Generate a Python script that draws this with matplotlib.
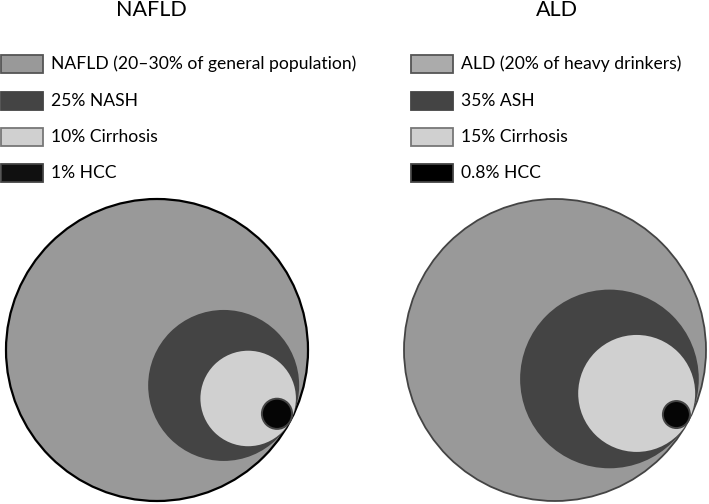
import numpy as np
import matplotlib
matplotlib.use("Agg")
import matplotlib.pyplot as plt
from matplotlib.patches import Circle, Rectangle

plt.rcParams['font.family'] = ['Lato', 'DejaVu Sans']

# data
titles = ["NAFLD", "ALD"]
nafld_labels = ["NAFLD (20–30% of general population)", "25% NASH",
                "10% Cirrhosis", "1% HCC"]
nafld_pct = [100, 25, 10, 1]
ald_labels = ["ALD (20% of heavy drinkers)", "35% ASH",
              "15% Cirrhosis", "0.8% HCC"]
ald_pct = [100, 35, 15, 0.8]

# styles
nafld_fill = ["#999999", "#444444", "#d0d0d0", "#050505"]
ald_fill = ["#999999", "#444444", "#d0d0d0", "#050505"]
nafld_swatch = ["#999999", "#444444", "#d0d0d0", "#101010"]
ald_swatch = ["#ababab", "#444444", "#d0d0d0", "#000000"]
swatch_edge = ["#555555", "#444444", "#777777", "#444444"]

W, H = 709, 504
fig = plt.figure(figsize=(W / 100, H / 100), dpi=100)
ax = fig.add_axes([0, 0, 1, 1])
ax.set_xlim(0, W)
ax.set_ylim(H, 0)
ax.set_axis_off()

panels = [
    dict(title=titles[0], labels=nafld_labels, pct=nafld_pct, fill=nafld_fill,
         swatch=nafld_swatch, cx=157, tx=151, sx=1, outer_edge="black", outer_lw=1.6),
    dict(title=titles[1], labels=ald_labels, pct=ald_pct, fill=ald_fill,
         swatch=ald_swatch, cx=555, tx=557, sx=411, outer_edge="#444444", outer_lw=1.3),
]

R = 151
cy = 350
ang = np.deg2rad(28)
row_y = [64, 101, 137, 173]

for p in panels:
    ax.text(p["tx"], 10, p["title"], fontsize=15.5, ha="center", va="center")
    for i, lab in enumerate(p["labels"]):
        ax.add_patch(Rectangle((p["sx"], row_y[i] - 9), 42, 18,
                               facecolor=p["swatch"][i], edgecolor=swatch_edge[i], lw=1.3))
        ax.text(p["sx"] + 50, row_y[i], lab, fontsize=12.6, ha="left", va="center")
    for i, v in enumerate(p["pct"]):
        r = R * np.sqrt(v / 100)
        d = R - r
        x = p["cx"] + d * np.cos(ang)
        y = cy + d * np.sin(ang)
        if i == 0:
            ec, lw = p["outer_edge"], p["outer_lw"]
        elif i == 3:
            ec, lw = "#444444", 1.4
        else:
            ec, lw = "none", 0
        ax.add_patch(Circle((x, y), r, facecolor=p["fill"][i], edgecolor=ec, lw=lw))

fig.savefig("out.png", dpi=100)
